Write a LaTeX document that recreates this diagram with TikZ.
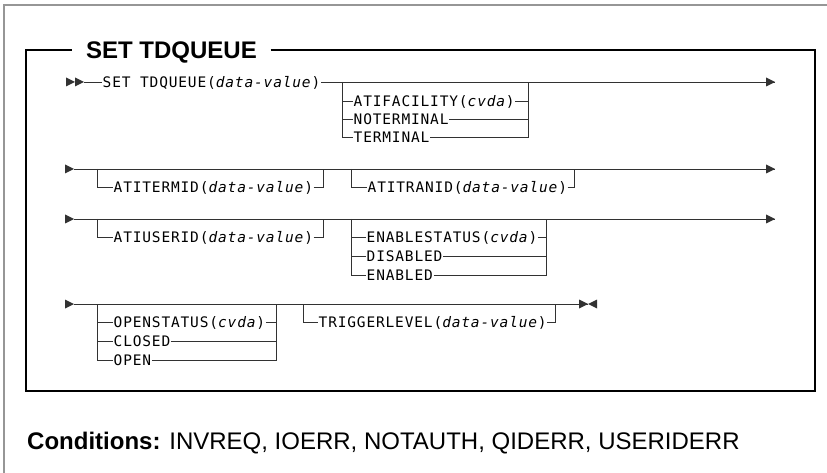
\documentclass[tikz,border=0pt]{standalone}
\usepackage{fontspec}
\setmainfont{Liberation Sans}
\newfontfamily\railfont[LetterSpace=5.8]{DejaVu Sans Mono}
\usepackage{xcolor}
\usepackage{tikz}
\usetikzlibrary{positioning,calc}

\definecolor{railgray}{RGB}{50,50,50}
\definecolor{framegray}{RGB}{150,150,150}
\tikzset{
    rail/.style={line width=0.9pt, railgray},
    kw/.style={font=\railfont\fontsize{14.5}{17}\selectfont, anchor=west,
        inner xsep=0.5pt, inner ysep=0pt, text height=10.6pt, text depth=0pt},
    boxline/.style={line width=1.1pt, black}
}
\newcommand{\dv}{\textit{data-value}}
\newcommand{\railtip}[1]{\fill[railgray,shift={(#1)}] (-9,-4.5) -- (0,0) -- (-9,4.5) -- cycle;}
\newcommand{\railback}[1]{\fill[railgray,shift={(#1)}] (9,-4.5) -- (0,0) -- (9,4.5) -- cycle;}

\begin{document}
\begin{tikzpicture}[x=1pt,y=-1pt]
    \useasboundingbox (0,0) rectangle (827,473);

    % Outer frame
    \draw[line width=1.2pt, framegray] (4,473) -- (4,5) -- (827,5);

    % Title and inner box
    \node[font=\fontsize{24}{28}\selectfont\bfseries, inner xsep=13.5pt, inner ysep=0pt,
        text height=17pt, text depth=0pt] (title) at (171.5,50) {SET TDQUEUE};
    \draw[boxline] (title.east) -- (815,50) -- (815,391) -- (26,391) -- (26,50) -- (title.west);

    % Row 1
    \coordinate (r1s) at (84,82);
    \coordinate (r1e) at (775,82);
    \railtip{75,82}
    \railtip{r1s}
    \node[kw] (setq) at (102,82) {SET TDQUEUE(\dv)};
    \draw[rail] (r1s) -- (setq.west);
    \draw[rail] (setq.east) -- (r1e);
    \railtip{r1e}
    \coordinate (b1a) at (342,82);
    \coordinate (b1b) at (528,82);
    \node[kw] (atifac) at (353,101) {ATIFACILITY(\textit{cvda})};
    \node[kw] (noterm) at (353,119) {NOTERMINAL};
    \node[kw] (term) at (353,137) {TERMINAL};
    \draw[rail] (b1a) |- (term.west);
    \draw[rail] (term.east) -| (b1b);
    \foreach \n in {atifac,noterm} {
        \draw[rail] (b1a |- \n.west) -- (\n.west);
        \draw[rail] (\n.east) -- (b1b |- \n.east);
    }

    % Row 2
    \coordinate (r2s) at (74,169);
    \coordinate (r2e) at (775,169);
    \railtip{r2s}
    \draw[rail] (r2s) -- (r2e);
    \railtip{r2e}
    \coordinate (b2a) at (97,169);
    \coordinate (b2b) at (323,169);
    \coordinate (b2c) at (351,169);
    \coordinate (b2d) at (574,169);
    \node[kw] (atitermid) at (113,187) {ATITERMID(\dv)};
    \node[kw] (atitranid) at (367,187) {ATITRANID(\dv)};
    \draw[rail] (b2a) |- (atitermid.west);
    \draw[rail] (atitermid.east) -| (b2b);
    \draw[rail] (b2c) |- (atitranid.west);
    \draw[rail] (atitranid.east) -| (b2d);

    % Row 3
    \coordinate (r3s) at (74,219);
    \coordinate (r3e) at (775,219);
    \railtip{r3s}
    \draw[rail] (r3s) -- (r3e);
    \railtip{r3e}
    \coordinate (b3a) at (97,219);
    \coordinate (b3b) at (323,219);
    \coordinate (b3c) at (351,219);
    \coordinate (b3d) at (546,219);
    \node[kw] (atiuserid) at (113,237) {ATIUSERID(\dv)};
    \draw[rail] (b3a) |- (atiuserid.west);
    \draw[rail] (atiuserid.east) -| (b3b);
    \node[kw] (enstat) at (366,237) {ENABLESTATUS(\textit{cvda})};
    \node[kw] (disabled) at (366,256) {DISABLED};
    \node[kw] (enabled) at (366,275) {ENABLED};
    \draw[rail] (b3c) |- (enabled.west);
    \draw[rail] (enabled.east) -| (b3d);
    \foreach \n in {enstat,disabled} {
        \draw[rail] (b3c |- \n.west) -- (\n.west);
        \draw[rail] (\n.east) -- (b3d |- \n.east);
    }

    % Row 4
    \coordinate (r4s) at (74,304);
    \coordinate (r4e) at (588,304);
    \railtip{r4s}
    \draw[rail] (r4s) -- (r4e);
    \railtip{r4e}
    \railback{r4e}
    \coordinate (b4a) at (97,304);
    \coordinate (b4b) at (276,304);
    \coordinate (b4c) at (303,304);
    \coordinate (b4d) at (555,304);
    \node[kw] (openstat) at (113,322) {OPENSTATUS(\textit{cvda})};
    \node[kw] (closed) at (113,341) {CLOSED};
    \node[kw] (open) at (113,360) {OPEN};
    \draw[rail] (b4a) |- (open.west);
    \draw[rail] (open.east) -| (b4b);
    \foreach \n in {openstat,closed} {
        \draw[rail] (b4a |- \n.west) -- (\n.west);
        \draw[rail] (\n.east) -- (b4b |- \n.east);
    }
    \node[kw] (triglvl) at (318,322) {TRIGGERLEVEL(\dv)};
    \draw[rail] (b4c) |- (triglvl.west);
    \draw[rail] (triglvl.east) -| (b4d);

    % Conditions
    \node[anchor=base west, font=\fontsize{24}{28}\selectfont, inner sep=0pt] (cond) at (27,449)
        {\textbf{Conditions:} INVREQ, IOERR, NOTAUTH, QIDERR, USERIDERR};
\end{tikzpicture}
\end{document}
